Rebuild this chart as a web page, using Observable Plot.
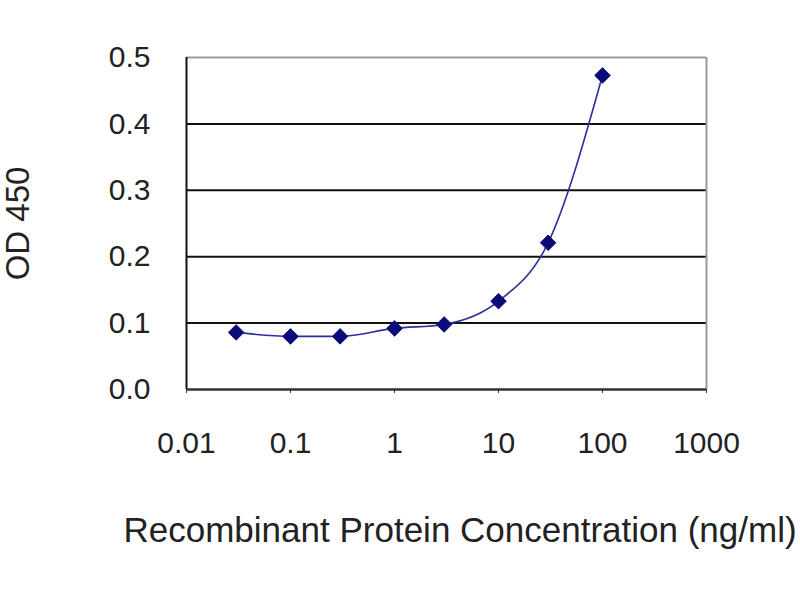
<!DOCTYPE html>
<html>
<head>
<meta charset="utf-8">
<script src="https://cdn.jsdelivr.net/npm/d3@7"></script>
<script src="https://cdn.jsdelivr.net/npm/@observablehq/plot@0.6"></script>
<style>
  html, body { margin: 0; padding: 0; background: #fff; }
</style>
</head>
<body>
<div id="chart"></div>
<script>
const concentrations = [0.03, 0.1, 0.3, 1, 3, 10, 30, 100];
const odValues = [0.086, 0.080, 0.080, 0.092, 0.098, 0.133, 0.221, 0.473];
const xTicks = [0.01, 0.1, 1, 10, 100, 1000];
const xTickLabels = ["0.01", "0.1", "1", "10", "100", "1000"];
const yTicks = [0, 0.1, 0.2, 0.3, 0.4, 0.5];
const gridValues = [0.1, 0.2, 0.3, 0.4];
const xLabel = "Recombinant Protein Concentration (ng/ml)";
const yLabel = "OD 450";

const data = concentrations.map((c, i) => ({conc: c, od: odValues[i]}));

const chart = Plot.plot({
  width: 800,
  height: 600,
  marginLeft: 186,
  marginRight: 94,
  marginTop: 57,
  marginBottom: 211,
  style: {fontFamily: "'Liberation Sans', Arial, sans-serif", color: "#222", background: "#fff"},
  x: {type: "log", domain: [0.01, 1000]},
  y: {domain: [0, 0.5]},
  marks: [
    Plot.ruleY(gridValues, {stroke: "#111", strokeWidth: 2}),
    Plot.ruleY([0.5], {stroke: "#999", strokeWidth: 2}),
    Plot.ruleX([1000], {stroke: "#999", strokeWidth: 2}),
    Plot.ruleX([0.01], {stroke: "#111", strokeWidth: 2}),
    Plot.ruleY([0], {stroke: "#333", strokeWidth: 2.5}),
    Plot.axisX({ticks: xTicks, tickFormat: (d) => xTickLabels[xTicks.indexOf(d)], tickSize: 4, tickPadding: 38, fontSize: 30, label: null, stroke: "#333"}),
    Plot.axisY({ticks: yTicks, tickFormat: d3.format(".1f"), tickSize: 0, tickPadding: 36, fontSize: 30, label: null}),
    Plot.line(data, {x: "conc", y: "od", curve: "monotone-x", stroke: "#2a2f9a", strokeWidth: 1.6}),
    Plot.dot(data, {x: "conc", y: "od", symbol: "diamond2", r: 7, fill: "#0a0a78", stroke: "#0a0a78", strokeWidth: 1}),
    Plot.text([xLabel], {frameAnchor: "bottom-left", textAnchor: "start", dx: -63, dy: 152, fontSize: 35, fill: "#222"}),
    Plot.text([yLabel], {frameAnchor: "left", textAnchor: "middle", rotate: -90, dx: -168, dy: 0, fontSize: 33, fill: "#222"})
  ]
});
document.getElementById("chart").appendChild(chart);
</script>
</body>
</html>
